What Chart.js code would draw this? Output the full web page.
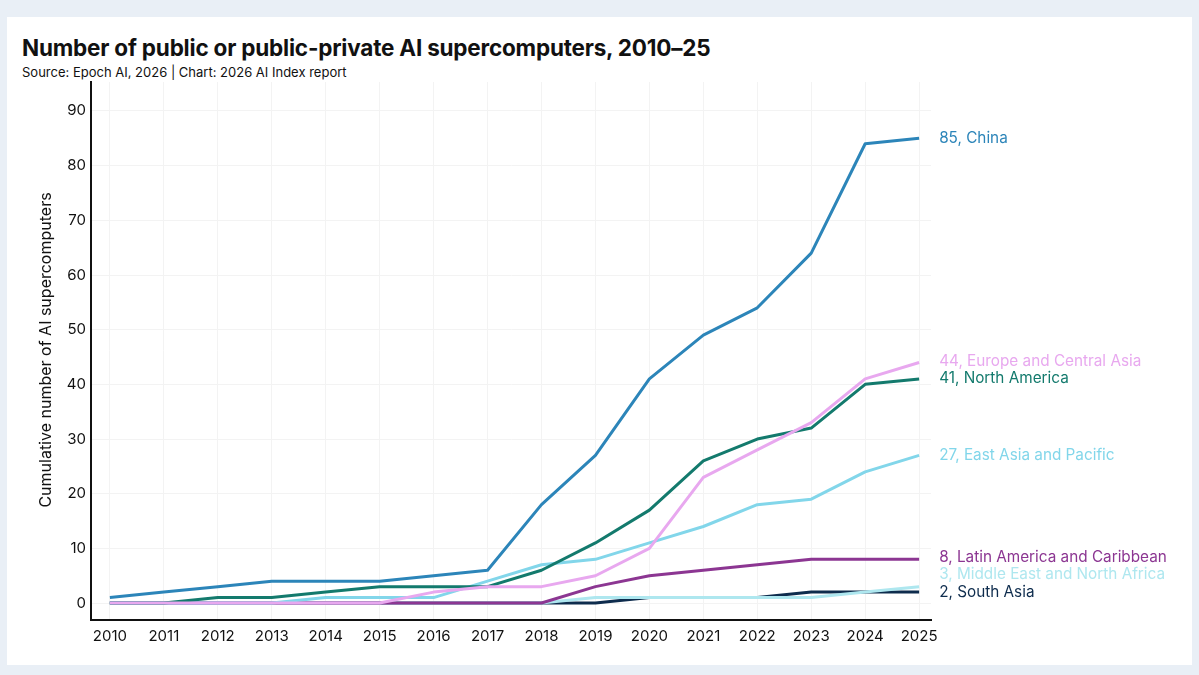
<!DOCTYPE html>
<html>
<head>
<meta charset="utf-8">
<script src="https://cdn.jsdelivr.net/npm/chart.js@4.4.1/dist/chart.umd.min.js"></script>
<style>
  html, body { margin:0; padding:0; width:1199px; height:675px; background:#E9EFF6; overflow:hidden; }
  #panel { position:absolute; left:7px; top:17px; width:1185px; height:648px; background:#FFFFFF; }
  #title { position:absolute; left:22px; top:34px; font-family:Inter, "Noto Sans", sans-serif; font-weight:700; font-size:22.5px; color:#111; letter-spacing:-0.2px; white-space:nowrap; }
  #subtitle { position:absolute; left:22px; top:64px; font-family:Inter, "Noto Sans", sans-serif; font-size:13px; color:#111; white-space:nowrap; }
  #wrap { position:absolute; left:0; top:0; width:1199px; height:675px; }
</style>
</head>
<body>
<div id="panel"></div>
<div id="title">Number of public or public-private AI supercomputers, 2010–25</div>
<div id="subtitle">Source: Epoch AI, 2026 | Chart: 2026 AI Index report</div>
<div id="wrap"><canvas id="c" width="1199" height="675"></canvas></div>
<script>
const years = [2010,2011,2012,2013,2014,2015,2016,2017,2018,2019,2020,2021,2022,2023,2024,2025];
const seriesNames = ["China","Europe and Central Asia","North America","East Asia and Pacific","Latin America and Caribbean","Middle East and North Africa","South Asia"];
const china        = [1,2,3,4,4,4,5,6,18,27,41,49,54,64,84,85];
const europe       = [0,0,0,0,0,0,2,3,3,5,10,23,28,33,41,44];
const northAmerica = [0,0,1,1,2,3,3,3,6,11,17,26,30,32,40,41];
const eastAsia     = [0,0,0,0,1,1,1,4,7,8,11,14,18,19,24,27];
const latinAmerica = [0,0,0,0,0,0,0,0,0,3,5,6,7,8,8,8];
const middleEast   = [0,0,0,0,0,0,0,0,0,1,1,1,1,1,2,3];
const southAsia    = [0,0,0,0,0,0,0,0,0,0,1,1,1,2,2,2];
const yTicks = [0,10,20,30,40,50,60,70,80,90];

const seriesValues = [china, europe, northAmerica, eastAsia, latinAmerica, middleEast, southAsia];
const colors = ["#2C85B9","#E8A8EF","#137A6D","#82D6EA","#8C3692","#AEE7EF","#0E2C4D"];

const datasets = seriesNames.map((name, i) => ({
  label: name,
  data: years.map((y, j) => ({x: y, y: seriesValues[i][j]})),
  borderColor: colors[i],
  backgroundColor: colors[i],
  borderWidth: 3,
  pointRadius: 0,
  tension: 0,
  fill: false,
  borderJoinStyle: 'round',
  borderCapStyle: 'butt'
}));

const FONT = 'Inter, "Noto Sans", sans-serif';

const endLabels = {
  id: 'endLabels',
  afterDatasetsDraw(chart) {
    const ctx = chart.ctx;
    const xs = chart.scales.x;
    const items = chart.data.datasets.map((ds, i) => {
      const meta = chart.getDatasetMeta(i);
      const pt = meta.data[meta.data.length - 1];
      const v = ds.data[ds.data.length - 1].y;
      return {y: pt.y, text: v + ', ' + ds.label, color: ds.borderColor};
    });
    const sorted = items.slice().sort((a, b) => b.y - a.y);
    const gap = 17.5;
    for (let k = 1; k < sorted.length; k++) {
      if (sorted[k].y > sorted[k-1].y - gap) sorted[k].y = sorted[k-1].y - gap;
    }
    const x = xs.getPixelForValue(2025) + 20;
    ctx.save();
    ctx.font = '15.3px ' + FONT;
    ctx.textBaseline = 'middle';
    ctx.textAlign = 'left';
    items.forEach(it => { ctx.fillStyle = it.color; ctx.fillText(it.text, x, it.y); });
    ctx.restore();
  }
};

const yTitle = {
  id: 'yTitle',
  afterDraw(chart) {
    const ctx = chart.ctx;
    ctx.save();
    ctx.translate(46, 350);
    ctx.rotate(-Math.PI / 2);
    ctx.font = '16px ' + FONT;
    ctx.fillStyle = '#111';
    ctx.textAlign = 'center';
    ctx.textBaseline = 'middle';
    ctx.fillText('Cumulative number of AI supercomputers', 0, 0);
    ctx.restore();
  }
};

new Chart(document.getElementById('c'), {
  type: 'line',
  data: { datasets },
  options: {
    responsive: false,
    animation: false,
    layout: { padding: { left: 0, right: 268, top: 82, bottom: 15 } },
    plugins: { legend: { display: false }, tooltip: { enabled: false }, title: { display: false } },
    scales: {
      x: {
        type: 'linear',
        min: 2009.65,
        max: 2025.22,
        afterBuildTicks: s => { s.ticks = years.map(v => ({value: v})); },
        afterFit: s => { s.height = 40; },
        grid: { color: '#F3F3F3', lineWidth: 1, drawTicks: false },
        border: { display: true, color: '#111', width: 2 },
        ticks: { color: '#111', font: { family: FONT, size: 15 }, padding: 7, maxRotation: 0, autoSkip: false, callback: v => String(v) }
      },
      y: {
        type: 'linear',
        min: -3.1,
        max: 95.3,
        afterBuildTicks: s => { s.ticks = yTicks.map(v => ({value: v})); },
        afterFit: s => { s.width = 91; },
        grid: { color: '#F3F3F3', lineWidth: 1, drawTicks: false },
        border: { display: true, color: '#111', width: 2 },
        ticks: { color: '#111', font: { family: FONT, size: 15 }, padding: 5, callback: v => String(v) }
      }
    }
  },
  plugins: [endLabels, yTitle]
});
</script>
</body>
</html>
